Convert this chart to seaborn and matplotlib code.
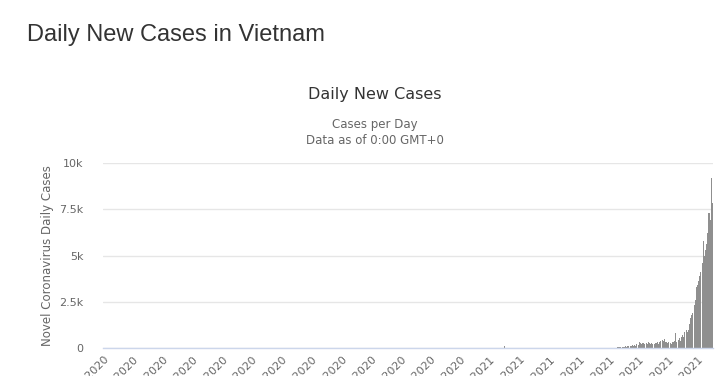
import pandas as pd
import matplotlib
matplotlib.use("Agg")
import matplotlib.pyplot as plt
import seaborn as sns

# date span of the chart (one bar per day)
start_date = "2020-02-15"
end_date = "2021-07-31"

# isolated small bars before the 2021 wave (everything else ~0 at this scale)
early_dates = ["2021-01-30"]
early_cases = [90]

# 2021 wave, daily values from May 8 to Jul 31
wave_start = "2021-05-08"
may_cases = [20, 30, 40, 60, 45, 35, 80, 60, 90, 70, 130, 110, 100, 120,
             140, 110, 150, 130, 190, 140, 330, 280, 230, 260]
jun_cases = [250, 230, 270, 210, 300, 260, 230, 280, 240, 220, 290, 260,
             300, 240, 330, 370, 420, 380, 460, 350, 300, 260, 320, 280,
             240, 330, 300, 380, 790, 310]
jul_cases = [430, 520, 380, 620, 700, 600, 880, 950, 870, 1000, 1300, 1600,
             1800, 1900, 2300, 2600, 3300, 3400, 3600, 3900, 4100, 4600,
             5800, 5000, 5300, 5600, 6200, 7300, 6900, 9180, 7850]

y_ticks = [0, 2500, 5000, 7500, 10000]
y_tick_labels = ["0", "2.5k", "5k", "7.5k", "10k"]
label_step = 26

# build the daily table
dates = pd.date_range(start_date, end_date, freq="D")
df = pd.DataFrame({"date": dates, "cases": 0})
df = df.set_index("date")
for d, v in zip(early_dates, early_cases):
    df.loc[pd.Timestamp(d), "cases"] = v
wave = may_cases + jun_cases + jul_cases
wave_idx = pd.date_range(wave_start, periods=len(wave), freq="D")
df.loc[wave_idx, "cases"] = wave
df = df.reset_index()
df["pos"] = range(len(df))

sns.set_style("white")
plt.rcParams["font.family"] = ["DejaVu Sans"]

fig = plt.figure(figsize=(7.2, 3.76), dpi=100)
ax = fig.add_axes([103 / 720, 28 / 376, 610 / 720, 185 / 376])

sns.barplot(data=df, x="pos", y="cases", color="#8f8f8f", saturation=1,
            width=0.9, linewidth=0, errorbar=None, ax=ax)

ax.set_ylim(0, 10000)
ax.set_xlim(-0.5, len(df) - 0.5)
ax.set_yticks(y_ticks)
ax.set_yticklabels(y_tick_labels)
ax.yaxis.grid(True, color="#e6e6e6", linewidth=1)
ax.set_axisbelow(True)
for side in ["top", "right", "left"]:
    ax.spines[side].set_visible(False)
ax.spines["bottom"].set_color("#ccd6eb")
ax.spines["bottom"].set_linewidth(1)

ticks = list(range(0, len(df), label_step))
ax.set_xticks(ticks)
ax.set_xticklabels([df["date"][i].strftime("%b %d, %Y") for i in ticks],
                   rotation=45, ha="right", rotation_mode="anchor")
ax.tick_params(axis="x", length=0, pad=5, labelsize=8, labelcolor="#666666")
ax.tick_params(axis="y", length=0, pad=14, labelsize=8, labelcolor="#666666")
ax.set_xlabel("")
ax.set_ylabel("")

fig.text(27 / 720, 1 - 35 / 376, "Daily New Cases in Vietnam", fontsize=17,
         family="Liberation Sans", color="#333333", va="center", ha="left")
fig.text(375 / 720, 1 - 95 / 376, "Daily New Cases", fontsize=11.5,
         color="#333333", ha="center", va="center")
fig.text(375 / 720, 1 - 125 / 376, "Cases per Day", fontsize=8.5,
         color="#666666", ha="center", va="center")
fig.text(375 / 720, 1 - 140 / 376, "Data as of 0:00 GMT+0", fontsize=8.5,
         color="#666666", ha="center", va="center")
fig.text(48 / 720, 1 - 256 / 376, "Novel Coronavirus Daily Cases", fontsize=8.5,
         color="#666666", rotation=90, ha="center", va="center")

fig.savefig("out.png", dpi=100)
